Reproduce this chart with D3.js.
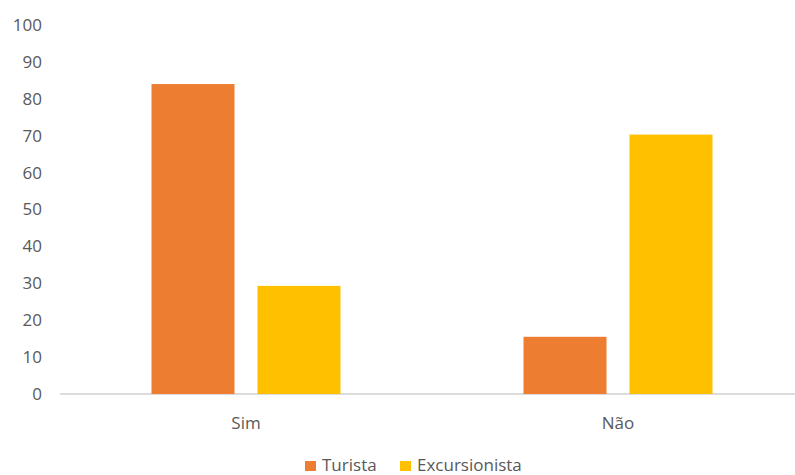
<!DOCTYPE html>
<html>
<head>
<script src="https://cdnjs.cloudflare.com/ajax/libs/d3/7.8.5/d3.min.js"></script>
<style>
  body { margin: 0; background: #fff; }
  text { font-family: "Open Sans", sans-serif; fill: #595959; }
</style>
</head>
<body>
<svg width="795" height="475"></svg>
<script>
var categories = ["Sim", "Não"];
var seriesNames = ["Turista", "Excursionista"];
var turista = [84, 15.5];
var excursionista = [29.3, 70.3];
var yTicks = [0, 10, 20, 30, 40, 50, 60, 70, 80, 90, 100];
var colors = ["#ED7D31", "#FFC000"];

var svg = d3.select("svg");
var y = d3.scaleLinear().domain([0, 100]).range([394, 25]);
var x0 = d3.scaleBand().domain(categories).range([60, 804]);
var x1 = d3.scaleBand().domain(seriesNames).range([91.5, 280.5]).paddingInner(0.217);

var values = [turista, excursionista];

// baseline
svg.append("line")
  .attr("x1", 60).attr("x2", 795)
  .attr("y1", y(0)).attr("y2", y(0))
  .attr("stroke", "#d0d0d0").attr("stroke-width", 1.3);

// y tick labels
svg.selectAll(".ytick").data(yTicks).enter()
  .append("text")
  .attr("class", "ytick")
  .attr("x", 42)
  .attr("y", function(d) { return y(d); })
  .attr("dy", "0.35em")
  .attr("text-anchor", "end")
  .style("font-size", "17px")
  .text(function(d) { return d; });

// bars
categories.forEach(function(c, i) {
  seriesNames.forEach(function(s, j) {
    svg.append("rect")
      .attr("x", x0(c) + x1(s))
      .attr("y", y(values[j][i]))
      .attr("width", x1.bandwidth())
      .attr("height", y(0) - y(values[j][i]))
      .attr("fill", colors[j]);
  });
});

// category labels
svg.selectAll(".xlab").data(categories).enter()
  .append("text")
  .attr("x", function(d) { return x0(d) + x0.bandwidth() / 2; })
  .attr("y", 429)
  .attr("text-anchor", "middle")
  .style("font-size", "17px")
  .text(function(d) { return d; });

// legend
var legX = [305, 400];
seriesNames.forEach(function(s, j) {
  svg.append("rect")
    .attr("x", legX[j]).attr("y", 461)
    .attr("width", 11).attr("height", 10)
    .attr("fill", colors[j]);
  svg.append("text")
    .attr("x", legX[j] + 17).attr("y", 471)
    .style("font-size", "17px")
    .text(s);
});
</script>
</body>
</html>
